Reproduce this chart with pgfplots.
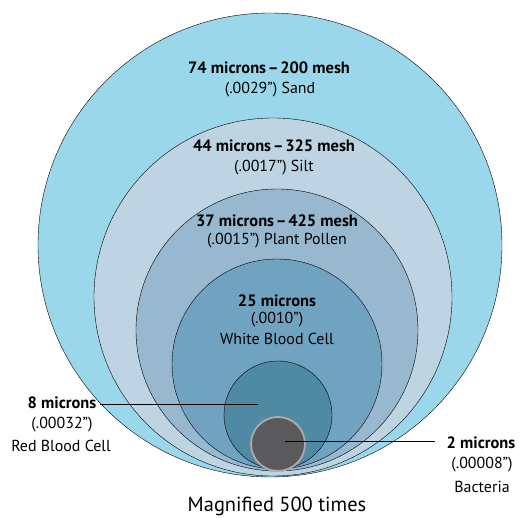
\documentclass[border=0pt]{standalone}
\usepackage{fontspec}
\setmainfont{PT Sans}
\usepackage{pgfplots}
\pgfplotsset{compat=1.18}

\definecolor{rimblue}{RGB}{32,72,140}
\definecolor{sandc}{RGB}{155,215,235}
\definecolor{siltc}{RGB}{190,212,226}
\definecolor{pollenc}{RGB}{152,184,208}
\definecolor{wbcc}{RGB}{112,163,192}
\definecolor{rbcc}{RGB}{80,138,162}
\definecolor{bactc}{RGB}{90,90,92}
\definecolor{bactrim}{RGB}{172,172,172}

\newcommand{\dash}{\hspace{0.1em}–\hspace{0.1em}}

\begin{document}
\begin{tikzpicture}
\begin{axis}[
    set layers=standard,
    hide axis,
    scale only axis,
    width=522bp, height=518bp,
    xmin=0, xmax=522, ymin=0, ymax=518,
    y dir=reverse,
    clip=false,
    circ/.style={only marks, mark=*, mark options={draw=rimblue, line width=1.7bp}},
]
% each circle: centre (px) and radius as mark size
\addplot[circ, mark size=232bp, mark options={fill=sandc}] coordinates {(270,245)};
\addplot[circ, mark size=179bp, mark options={fill=siltc}] coordinates {(273,297)};
\addplot[circ, mark size=141bp, mark options={fill=pollenc}] coordinates {(277,330)};
\addplot[circ, mark size=105bp, mark options={fill=wbcc}] coordinates {(277,364)};
\addplot[circ, mark size=54bp, mark options={fill=rbcc}] coordinates {(278,415)};
\addplot[circ, mark size=27bp, mark options={fill=bactc, draw=bactrim, line width=1.8bp}] coordinates {(278,444)};

% leader lines
\addplot[on layer=axis foreground, no marks, line width=1bp, black] coordinates {(100,405) (258,405)};
\addplot[on layer=axis foreground, no marks, line width=1bp, black] coordinates {(285,442) (435,442)};

\begin{pgfonlayer}{axis foreground}
\begin{scope}[every node/.style={inner sep=0pt},
  bl/.style={font=\fontsize{16.5}{19}\selectfont\bfseries},
  rg/.style={font=\fontsize{16}{19}\selectfont}]
\node[bl] at (axis cs:269,68) {74 microns\dash 200 mesh};
\node[rg] at (axis cs:270,90) {(.0029”) Sand};
\node[bl] at (axis cs:274,146) {44 microns\dash 325 mesh};
\node[rg] at (axis cs:274,168) {(.0017”) Silt};
\node[bl] at (axis cs:277,221) {37 microns\dash 425 mesh};
\node[rg] at (axis cs:277,241) {(.0015”) Plant Pollen};
\node[bl] at (axis cs:277,301) {25 microns};
\node[rg] at (axis cs:277,320) {(.0010”)};
\node[rg] at (axis cs:277,339) {White Blood Cell};
\node[bl] at (axis cs:62,403) {8 microns};
\node[rg] at (axis cs:62,425) {(.00032”)};
\node[rg] at (axis cs:61,446) {Red Blood Cell};
\node[bl] at (axis cs:481,443) {2 microns};
\node[rg] at (axis cs:482,465) {(.00008”)};
\node[rg] at (axis cs:482,487) {Bacteria};
\node[font=\fontsize{20.5}{24}\selectfont] at (axis cs:277,506) {Magnified 500 times};
\end{scope}
\end{pgfonlayer}
\end{axis}
\pgfresetboundingbox
\path (current axis.south west) rectangle (current axis.north east);
\end{tikzpicture}
\end{document}
